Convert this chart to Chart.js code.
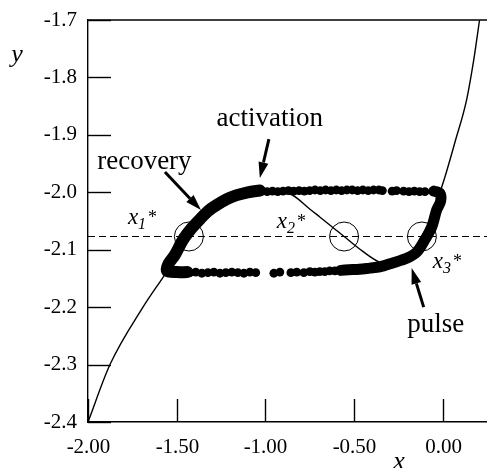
<!DOCTYPE html>
<html>
<head>
<meta charset="utf-8">
<script src="https://cdn.jsdelivr.net/npm/chart.js@4.4.1/dist/chart.umd.min.js"></script>
<style>
  html, body { margin: 0; padding: 0; background: #fff; overflow: hidden; }
  #wrap { width: 487px; height: 468px; }
  canvas { display: block; }
</style>
</head>
<body>
<div id="wrap"><canvas id="phase"></canvas></div>
<script>
// ── Axis ticks ──
const xTicks = [-2.0, -1.5, -1.0, -0.5, 0.0];
const yTicks = [-1.7, -1.8, -1.9, -2.0, -2.1, -2.2, -2.3, -2.4];

// ── Cubic nullcline (thin curve) ──
const nullX = [-2.00, -1.876, -1.69, -1.577, -1.50, -1.431, -1.30, -1.15, -1.00, -0.862, -0.75,
               -0.693, -0.60, -0.556, -0.45, -0.355, -0.27, -0.20, -0.117, -0.05, 0.011, 0.07,
               0.135, 0.175, 0.208];
const nullY = [-2.400, -2.300, -2.200, -2.148, -2.112, -2.077, -2.035, -2.010, -1.999, -2.003, -2.029,
               -2.043, -2.066, -2.077, -2.103, -2.122, -2.128, -2.115, -2.077, -2.030, -1.975, -1.912,
               -1.839, -1.770, -1.700];

// ── Dashed level and its three crossings ──
const levelY = -2.077;
const crossX = [-1.431, -0.556, -0.117];

// ── Trajectory: dense stretches ──
const leftBandX = [-1.44, -1.50, -1.555, -1.545, -1.51, -1.465, -1.414, -1.369, -1.324, -1.273,
                   -1.217, -1.161, -1.099, -1.031];
const leftBandY = [-2.139, -2.139, -2.137, -2.124, -2.109, -2.083, -2.062, -2.047, -2.033, -2.022,
                   -2.012, -2.005, -2.000, -1.997];
const rightBandX = [-0.05, -0.015, -0.012, -0.034, -0.062, -0.101, -0.146, -0.203, -0.282, -0.355,
                    -0.411, -0.47, -0.53, -0.575];
const rightBandY = [-1.998, -2.002, -2.016, -2.031, -2.061, -2.083, -2.104, -2.115, -2.123, -2.130,
                    -2.132, -2.134, -2.135, -2.136];

// ── Trajectory: sparse samples ──
const topDotsX = [-1.02, -0.99, -0.96, -0.93, -0.90, -0.87, -0.84, -0.81, -0.78, -0.75, -0.72, -0.69,
                  -0.66, -0.63, -0.60, -0.57, -0.54, -0.51, -0.48, -0.45, -0.42, -0.39, -0.36, -0.34,
                  -0.285, -0.26, -0.22, -0.19, -0.16, -0.13, -0.10];
const topDotsY = [-1.998, -1.999, -1.998, -1.999, -1.998, -1.997, -1.998, -1.997, -1.998, -1.997, -1.996, -1.997,
                  -1.996, -1.997, -1.996, -1.997, -1.996, -1.996, -1.997, -1.996, -1.997, -1.996, -1.996, -1.997,
                  -1.998, -1.997, -1.998, -1.999, -1.998, -1.999, -1.999];
const bottomDotsX = [-1.425, -1.392, -1.358, -1.324, -1.290, -1.256, -1.223, -1.189, -1.155, -1.121,
                     -1.087, -1.054, -0.952, -0.918, -0.856, -0.823, -0.783, -0.749, -0.721, -0.693,
                     -0.665, -0.637, -0.608];
const bottomDotsY = [-2.140, -2.139, -2.141, -2.140, -2.139, -2.141, -2.140, -2.139, -2.140, -2.141,
                     -2.139, -2.140, -2.141, -2.139, -2.140, -2.139, -2.140, -2.138, -2.139, -2.138,
                     -2.138, -2.137, -2.137];

const pts = (xs, ys) => xs.map((x, i) => ({ x, y: ys[i] }));
const serif = '"Liberation Serif", "Times New Roman", serif';

// text labels and arrows, anchored in data units
const words = [
  { text: 'recovery',   x: -1.682, y: -1.9596 },
  { text: 'activation', x: -0.975, y: -1.8847 },
  { text: 'pulse',      x: -0.039, y: -2.2436 },
];
const marks = [
  { sub: '1', x: -1.775, y: -2.0554 },
  { sub: '2', x: -0.935, y: -2.0624 },
  { sub: '3', x: -0.056, y: -2.132 },
];
const arrows = [
  { from: [-1.566, -1.9648], to: [-1.363, -2.031] },
  { from: [-0.980, -1.9073], to: [-1.031, -1.9753] },
  { from: [-0.107, -2.200],  to: [-0.175, -2.132] },
];

function drawArrow(ctx, x0, y0, x1, y1) {
  const head = 16, half = 5;
  const ang = Math.atan2(y1 - y0, x1 - x0);
  const bx = x1 - head * Math.cos(ang), by = y1 - head * Math.sin(ang);
  ctx.lineWidth = 3;
  ctx.beginPath(); ctx.moveTo(x0, y0); ctx.lineTo(bx, by); ctx.stroke();
  ctx.beginPath();
  ctx.moveTo(x1, y1);
  ctx.lineTo(bx + half * Math.sin(ang), by - half * Math.cos(ang));
  ctx.lineTo(bx - half * Math.sin(ang), by + half * Math.cos(ang));
  ctx.closePath();
  ctx.fill();
}

function drawMark(ctx, left, base, sub) {
  ctx.textAlign = 'left';
  ctx.textBaseline = 'alphabetic';
  ctx.font = `italic 23px ${serif}`;
  ctx.fillText('x', left, base);
  let w = ctx.measureText('x').width;
  ctx.font = `italic 16px ${serif}`;
  ctx.fillText(sub, left + w, base + 5);
  w += ctx.measureText(sub).width + 2;
  ctx.font = `18px ${serif}`;
  ctx.fillText('*', left + w, base - 1);
}

// ── Frame top, inward ticks, x labels, annotations ──
const decor = {
  id: 'decor',
  afterDatasetsDraw(chart) {
    const { ctx, chartArea: a, scales: { x: sx, y: sy } } = chart;
    ctx.save();
    ctx.strokeStyle = '#000';
    ctx.fillStyle = '#000';
    ctx.lineWidth = 1.4;

    ctx.beginPath();
    ctx.moveTo(a.left, a.top);
    ctx.lineTo(a.right, a.top);
    ctx.stroke();

    yTicks.forEach(v => {
      const p = Math.round(sy.getPixelForValue(v)) + 0.5;
      ctx.beginPath(); ctx.moveTo(a.left, p); ctx.lineTo(a.left + 23, p); ctx.stroke();
    });
    ctx.font = `21px ${serif}`;
    ctx.textAlign = 'center';
    ctx.textBaseline = 'middle';
    xTicks.forEach(v => {
      const p = Math.round(sx.getPixelForValue(v)) + 0.5;
      ctx.beginPath(); ctx.moveTo(p, a.bottom); ctx.lineTo(p, a.bottom - 23); ctx.stroke();
      ctx.fillText(v.toFixed(2), p, a.bottom + 25);
    });

    arrows.forEach(ar => {
      drawArrow(ctx,
        sx.getPixelForValue(ar.from[0]), sy.getPixelForValue(ar.from[1]),
        sx.getPixelForValue(ar.to[0]), sy.getPixelForValue(ar.to[1]));
    });

    ctx.font = `27px ${serif}`;
    ctx.textAlign = 'center';
    ctx.textBaseline = 'alphabetic';
    words.forEach(w => ctx.fillText(w.text, sx.getPixelForValue(w.x), sy.getPixelForValue(w.y)));

    marks.forEach(m => drawMark(ctx, sx.getPixelForValue(m.x), sy.getPixelForValue(m.y), m.sub));

    // axis names
    ctx.font = `italic 26px ${serif}`;
    ctx.textAlign = 'center';
    ctx.fillText('y', 17, 62);
    ctx.fillText('x', 399, 469);
    ctx.restore();
  }
};

new Chart(document.getElementById('phase'), {
  type: 'scatter',
  data: {
    datasets: [
      {
        data: pts(leftBandX, leftBandY), showLine: true, order: 1,
        borderColor: '#000', borderWidth: 12, borderCapStyle: 'round', borderJoinStyle: 'round',
        tension: 0.3, pointRadius: 0,
      },
      {
        data: pts(rightBandX, rightBandY), showLine: true, order: 1,
        borderColor: '#000', borderWidth: 11, borderCapStyle: 'round', borderJoinStyle: 'round',
        tension: 0.3, pointRadius: 0,
      },
      {
        data: pts(topDotsX, topDotsY).concat(pts(bottomDotsX, bottomDotsY)), order: 1,
        pointRadius: 4.4, backgroundColor: '#000', borderWidth: 0,
      },
      {
        data: crossX.map(x => ({ x, y: levelY })), order: 2,
        pointRadius: 14.5, pointStyle: 'circle', borderColor: '#000', borderWidth: 1,
        backgroundColor: 'rgba(0,0,0,0)',
      },
      {
        data: pts(nullX, nullY), showLine: true, order: 3,
        borderColor: '#000', borderWidth: 1.4, cubicInterpolationMode: 'monotone', pointRadius: 0,
      },
      {
        data: [{ x: -2.0, y: levelY }, { x: 0.25, y: levelY }], showLine: true, order: 4,
        borderColor: '#000', borderWidth: 1.1, borderDash: [7, 4], pointRadius: 0,
      },
    ],
  },
  options: {
    responsive: true,
    maintainAspectRatio: false,
    animation: false,
    devicePixelRatio: 1,
    events: [],
    layout: { autoPadding: false, padding: { top: 20, right: 0, left: 0, bottom: 0 } },
    plugins: { legend: { display: false }, tooltip: { enabled: false } },
    scales: {
      x: {
        type: 'linear', min: -2.0, max: 0.25,
        afterBuildTicks: s => { s.ticks = xTicks.map(v => ({ value: v })); },
        afterFit: s => { s.height = 46; },
        ticks: { display: false },
        grid: { display: false, drawTicks: false },
        border: { display: true, color: '#000', width: 1.4 },
      },
      y: {
        type: 'linear', min: -2.4, max: -1.7,
        afterBuildTicks: s => { s.ticks = yTicks.map(v => ({ value: v })); },
        afterFit: s => { s.width = 88; s.paddingTop = 0; s.paddingBottom = 0; },
        ticks: {
          callback: v => v.toFixed(1), color: '#000', padding: 11,
          autoSkip: false, font: { family: serif, size: 21 },
        },
        grid: { display: false, drawTicks: false },
        border: { display: true, color: '#000', width: 1.4 },
      },
    },
  },
  plugins: [decor],
});
</script>
</body>
</html>
